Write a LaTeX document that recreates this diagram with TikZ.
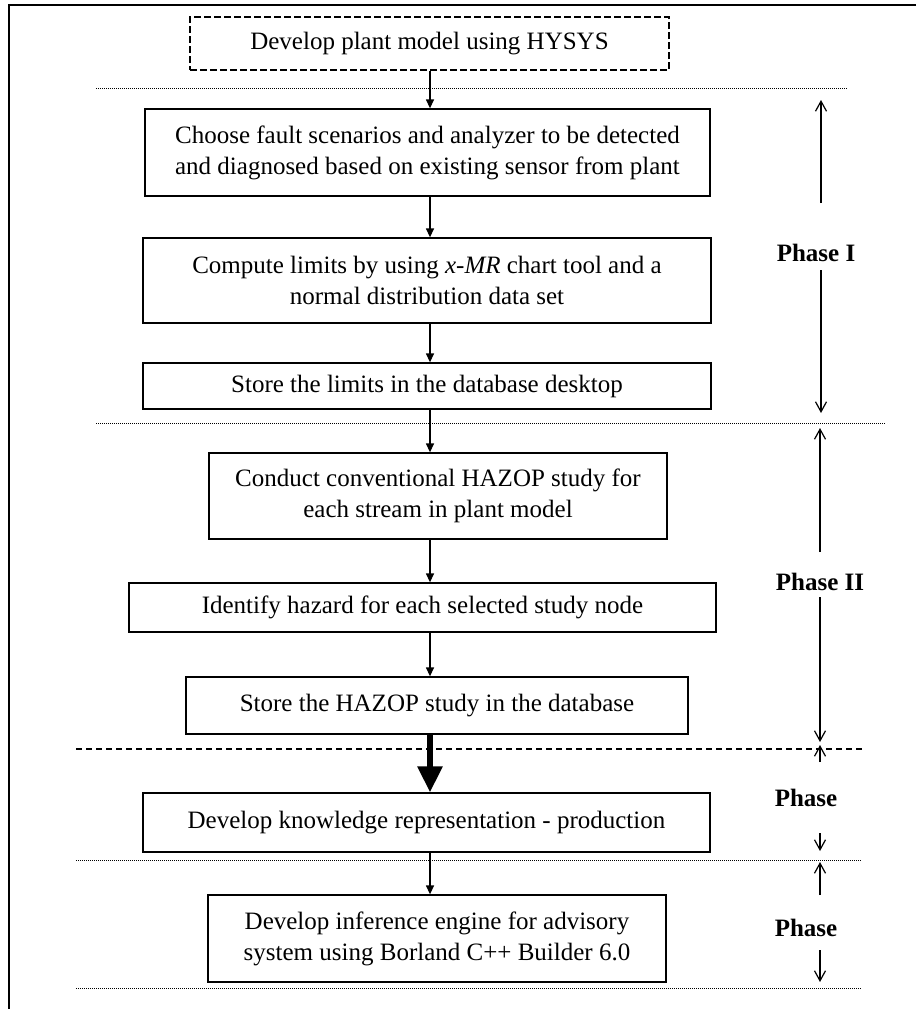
\documentclass[tikz,border=0pt]{standalone}
\usepackage{fontspec}
\setmainfont{Liberation Serif}
\usetikzlibrary{arrows.meta}
\begin{document}
\begin{tikzpicture}[x=1pt,y=-1pt,
  box/.style={draw, line width=1.3pt, inner sep=0pt, align=center,
    font=\fontsize{25}{31}\selectfont},
  dbox/.style={box, dash pattern=on 7pt off 3pt, line width=1.5pt},
  arr/.style={line width=1.3pt, -{Triangle[length=9pt,width=8pt]}},
  bigarr/.style={line width=6pt, -{Triangle[length=26pt,width=24pt]}},
  sep/.style={line width=1pt, dash pattern=on 1pt off 1pt},
  dsep/.style={line width=1.3pt, dash pattern=on 6pt off 4pt},
  phase/.style={font=\fontsize{25}{30}\selectfont\bfseries, inner sep=0pt},
  parr/.style={line width=1.2pt, -{Straight Barb[length=10pt,width=11pt,line width=1.2pt]}},
  frame/.style={line width=2pt}]
\useasboundingbox (0,0) rectangle (916,1009);

% outer frame
\coordinate (ftl) at (9,5);
\coordinate (ftr) at (916,5);
\coordinate (fbl) at (9,1009);
\draw[frame] (ftr) -- (ftl) -- (fbl);

% boxes
\node[dbox, minimum width=479pt, minimum height=53pt] (b1) at (429.5,43.5) {Develop plant model using HYSYS};
\node[box, minimum width=565pt, minimum height=87pt] (b2) at (427.5,152.5)
  {Choose fault scenarios and analyzer to be detected\\and diagnosed based on existing sensor from plant};
\node[box, minimum width=568pt, minimum height=85pt] (b3) at (427,280.5)
  {Compute limits by using \textit{x-MR} chart tool and a\\normal distribution data set};
\node[box, minimum width=568pt, minimum height=46pt] (b4) at (427,386)
  {Store the limits in the database desktop};
\node[box, minimum width=458pt, minimum height=86pt] (b5) at (438,496)
  {Conduct conventional HAZOP study for\\each stream in plant model};
\node[box, minimum width=587pt, minimum height=49pt] (b6) at (422.5,607.5)
  {Identify hazard for each selected study node};
\node[box, minimum width=502pt, minimum height=57pt] (b7) at (437,705.5)
  {Store the HAZOP study in the database};
\node[box, minimum width=567pt, minimum height=59pt] (b8) at (426.5,822.5)
  {Develop knowledge representation - production};
\node[box, minimum width=458pt, minimum height=87pt] (b9) at (437,938.5)
  {Develop inference engine for advisory\\system using Borland C++ Builder 6.0};

% flow arrows
\coordinate (c) at (430,0);
\draw[arr] (b1.south -| c) -- (b2.north -| c);
\draw[arr] (b2.south -| c) -- (b3.north -| c);
\draw[arr] (b3.south -| c) -- (b4.north -| c);
\draw[arr] (b4.south -| c) -- (b5.north -| c);
\draw[arr] (b5.south -| c) -- (b6.north -| c);
\draw[arr] (b6.south -| c) -- (b7.north -| c);
\draw[bigarr] (b7.south -| c) -- (b8.north -| c);
\draw[arr] (b8.south -| c) -- (b9.north -| c);

% separators
\coordinate (s1a) at (96,88);  \coordinate (s1b) at (847,88);
\coordinate (s2a) at (96,423); \coordinate (s2b) at (885,423);
\coordinate (s3a) at (76,749); \coordinate (s3b) at (864,749);
\coordinate (s4a) at (76,860); \coordinate (s4b) at (862,860);
\coordinate (s5a) at (76,988); \coordinate (s5b) at (862,988);
\draw[sep] (s1a) -- (s1b);
\draw[sep] (s2a) -- (s2b);
\draw[dsep] (s3a) -- (s3b);
\draw[sep] (s4a) -- (s4b);
\draw[sep] (s5a) -- (s5b);

% phase labels
\node[phase] (p1) at (816,253) {Phase I};
\node[phase] (p2) at (820,582) {Phase II};
\node[phase] (p3) at (806,798) {Phase};
\node[phase] (p4) at (806,928) {Phase};

% phase arrows
\coordinate (p1ua) at (821,203); \coordinate (p1ub) at (821,100);
\coordinate (p1da) at (821,270); \coordinate (p1db) at (821,413);
\coordinate (p2ua) at (820,552); \coordinate (p2ub) at (820,428);
\coordinate (p2da) at (820,597); \coordinate (p2db) at (820,742);
\coordinate (p3ua) at (820,762); \coordinate (p3ub) at (820,745);
\coordinate (p3da) at (820,833); \coordinate (p3db) at (820,851);
\coordinate (p4ua) at (820,895); \coordinate (p4ub) at (820,862);
\coordinate (p4da) at (820,950); \coordinate (p4db) at (820,982);
\draw[parr] (p1ua) -- (p1ub);
\draw[parr] (p1da) -- (p1db);
\draw[parr] (p2ua) -- (p2ub);
\draw[parr] (p2da) -- (p2db);
\draw[parr] (p3ua) -- (p3ub);
\draw[parr] (p3da) -- (p3db);
\draw[parr] (p4ua) -- (p4ub);
\draw[parr] (p4da) -- (p4db);
\end{tikzpicture}
\end{document}
